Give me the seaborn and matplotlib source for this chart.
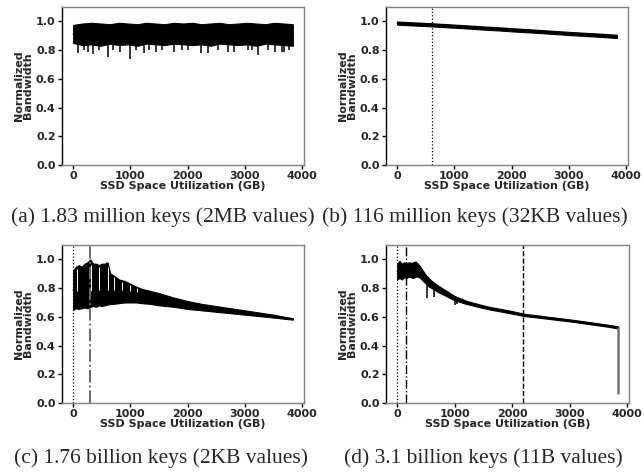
import numpy as np
import pandas as pd
import matplotlib
matplotlib.use("Agg")
import matplotlib.pyplot as plt
import seaborn as sns

# ---------------- data ----------------
# (a) 1.83 million keys (2MB values)
xa = [0, 160, 320, 480, 640, 800, 960, 1120, 1280, 1440, 1600, 1760, 1920,
      2080, 2240, 2400, 2560, 2720, 2880, 3040, 3200, 3360, 3520, 3680, 3840]
hi_a = [0.975, 0.985, 0.99, 0.985, 0.98, 0.99, 0.985, 0.98, 0.99, 0.985, 0.98, 0.99, 0.985,
        0.99, 0.98, 0.985, 0.99, 0.98, 0.985, 0.99, 0.985, 0.98, 0.99, 0.985, 0.98]
lo_a = [0.85, 0.835, 0.84, 0.83, 0.845, 0.835, 0.84, 0.83, 0.845, 0.84, 0.835, 0.845, 0.84,
        0.835, 0.84, 0.83, 0.845, 0.84, 0.835, 0.84, 0.83, 0.845, 0.84, 0.835, 0.83]
dip_xa = [90, 190, 265, 350, 450, 610, 700, 820, 985, 1100, 1240, 1330, 1450, 1560, 1770,
          1900, 2000, 2230, 2350, 2530, 2700, 2820, 3060, 3120, 3230, 3400, 3530, 3650, 3680, 3770]
dip_ya = [0.78, 0.80, 0.79, 0.77, 0.80, 0.755, 0.80, 0.79, 0.735, 0.80, 0.78, 0.80, 0.79, 0.80, 0.79,
          0.80, 0.80, 0.78, 0.78, 0.80, 0.79, 0.79, 0.80, 0.80, 0.765, 0.80, 0.79, 0.79, 0.79, 0.80]

# (b) 116 million keys (32KB values)
xb = [0, 300, 600, 900, 1200, 1500, 1800, 2100, 2400, 2700, 3000, 3300, 3600, 3840]
hi_b = [0.999, 0.993, 0.987, 0.980, 0.973, 0.965, 0.958, 0.950, 0.943, 0.935, 0.927, 0.920, 0.913, 0.907]
lo_b = [0.977, 0.971, 0.965, 0.958, 0.951, 0.943, 0.936, 0.928, 0.921, 0.913, 0.905, 0.898, 0.891, 0.884]
vline_b = {"dotted": 610}

# (c) 1.76 billion keys (2KB values)
xc = [0, 50, 100, 150, 200, 250, 300, 350, 400, 450, 500, 550, 600, 650, 700, 800, 900, 1000,
      1100, 1200, 1350, 1500, 1750, 2000, 2250, 2500, 2750, 3000, 3250, 3500, 3840]
hi_c = [0.92, 0.95, 0.96, 0.95, 0.97, 0.98, 1.0, 0.97, 0.97, 0.96, 0.97, 0.97, 0.98, 0.90, 0.89,
        0.86, 0.85, 0.83, 0.81, 0.795, 0.78, 0.765, 0.735, 0.71, 0.69, 0.675, 0.66, 0.645, 0.63,
        0.615, 0.59]
lo_c = [0.65, 0.66, 0.655, 0.66, 0.665, 0.66, 0.67, 0.675, 0.67, 0.68, 0.675, 0.68, 0.685, 0.69,
        0.69, 0.695, 0.70, 0.70, 0.70, 0.695, 0.69, 0.68, 0.67, 0.655, 0.645, 0.635, 0.625, 0.615,
        0.605, 0.595, 0.58]
gap_xc = [65, 310, 450, 610, 715, 850, 990, 1110]
gap_lo_c = [0.78, 0.78, 0.79, 0.79, 0.79, 0.79, 0.78, 0.77]
gap_hi_c = [0.93, 0.96, 0.95, 0.95, 0.88, 0.84, 0.82, 0.80]
vline_c = {"dotted": 0, "dashdot": 290}

# (d) 3.1 billion keys (11B values)
xd = [0, 40, 80, 120, 160, 200, 240, 280, 320, 360, 400, 450, 500, 550, 600, 700, 800, 900,
      1000, 1200, 1400, 1600, 1800, 2000, 2200, 2500, 2800, 3100, 3400, 3700, 3850]
hi_d = [0.97, 0.99, 0.97, 0.98, 0.97, 0.98, 0.975, 0.98, 0.985, 0.97, 0.95, 0.92, 0.89, 0.87,
        0.85, 0.82, 0.795, 0.77, 0.745, 0.712, 0.69, 0.67, 0.655, 0.64, 0.622, 0.607, 0.592,
        0.577, 0.56, 0.543, 0.533]
lo_d = [0.86, 0.87, 0.86, 0.875, 0.87, 0.88, 0.875, 0.87, 0.88, 0.88, 0.87, 0.85, 0.83, 0.81,
        0.80, 0.775, 0.755, 0.735, 0.715, 0.69, 0.67, 0.652, 0.637, 0.622, 0.606, 0.592, 0.578,
        0.563, 0.546, 0.529, 0.518]
dip_xd = [520, 640, 1000, 1040]
dip_yd = [0.73, 0.74, 0.68, 0.69]
drop_x = [3850, 3850]
drop_y = [0.525, 0.07]
vline_d = {"dotted": 5, "dashdot": 150, "dashed": 2190}

captions = ["(a) 1.83 million keys (2MB values)", "(b) 116 million keys (32KB values)",
            "(c) 1.76 billion keys (2KB values)", "(d) 3.1 billion keys (11B values)"]

xticks = [0, 1000, 2000, 3000, 4000]
yticks = [0.0, 0.2, 0.4, 0.6, 0.8, 1.0]

# ---------------- drawing ----------------
sns.set_theme(style="ticks")
plt.rcParams["font.family"] = ["DejaVu Sans"]

fig = plt.figure(figsize=(6.44, 4.74), dpi=100)
W, H = 644, 474
boxes = [(62, 7, 304, 165), (386, 7, 628, 165), (62, 245, 304, 403), (386, 245, 629, 403)]
axes = [fig.add_axes([l / W, 1 - b / H, (r - l) / W, (b - t) / H]) for (l, t, r, b) in boxes]


def band(ax, x, lo, hi, lw=1.0):
    df = pd.DataFrame({"x": list(x) + list(x), "y": list(lo) + list(hi)})
    sns.lineplot(data=df, x="x", y="y", estimator="mean", errorbar=("pi", 100),
                 color="black", lw=lw, ax=ax,
                 err_kws=dict(alpha=1, facecolor="black", edgecolor="black", linewidth=0.8))


def dips(ax, x, y, lox, lov):
    base = np.interp(x, lox, lov) + 0.01
    ax.vlines(x, y, base, color="black", lw=1.1)


band(axes[0], xa, lo_a, hi_a)
dips(axes[0], dip_xa, dip_ya, xa, lo_a)

band(axes[1], xb, lo_b, hi_b)
axes[1].axvline(vline_b["dotted"], color="black", ls=":", lw=0.9)

band(axes[2], xc, lo_c, hi_c)
axes[2].vlines(gap_xc, gap_lo_c, gap_hi_c, color="white", lw=0.7)
axes[2].axvline(vline_c["dotted"], color="black", ls=":", lw=0.9)
axes[2].axvline(vline_c["dashdot"], color="0.4", ls="-.", lw=1.4)

band(axes[3], xd, lo_d, hi_d)
dips(axes[3], dip_xd, dip_yd, xd, lo_d)
sns.lineplot(x=drop_x, y=drop_y, estimator=None, sort=False, color="0.45", lw=1.8, ax=axes[3])
axes[3].axvline(vline_d["dotted"], color="black", ls=":", lw=0.9)
axes[3].axvline(vline_d["dashdot"], color="black", ls="-.", lw=1.0)
axes[3].axvline(vline_d["dashed"], color="black", ls="--", lw=1.0)

bold = dict(fontsize=8, fontweight="bold")
for ax in axes:
    ax.set_xlim(-195, 4035)
    ax.set_ylim(0, 1.1)
    ax.set_xticks(xticks)
    ax.set_yticks(yticks)
    ax.set_xticklabels([str(v) for v in xticks], **bold)
    ax.set_yticklabels([f"{v:.1f}" for v in yticks], **bold)
    ax.set_xlabel("SSD Space Utilization (GB)", labelpad=0, **bold)
    ax.set_ylabel("Normalized\nBandwidth", labelpad=2, linespacing=0.95, **bold)
    ax.tick_params(axis="both", length=3, width=1, color="black", pad=1.5)
    for s in ["top", "right", "bottom"]:
        ax.spines[s].set_color("0.5")
        ax.spines[s].set_linewidth(1.0)
    ax.spines["left"].set_color("black")
    ax.spines["left"].set_linewidth(1.0)
    if ax.get_legend() is not None:
        ax.get_legend().remove()

cap_font = dict(family=["Liberation Serif"], fontsize=15.5)
fig.text(163 / W, 1 - 217 / H, captions[0], ha="center", va="center", **cap_font)
fig.text(322 / W, 1 - 217 / H, captions[1], ha="left", va="center", **cap_font)
fig.text(161 / W, 1 - 458 / H, captions[2], ha="center", va="center", **cap_font)
fig.text(483 / W, 1 - 458 / H, captions[3], ha="center", va="center", **cap_font)

fig.savefig("out.png", dpi=100)
